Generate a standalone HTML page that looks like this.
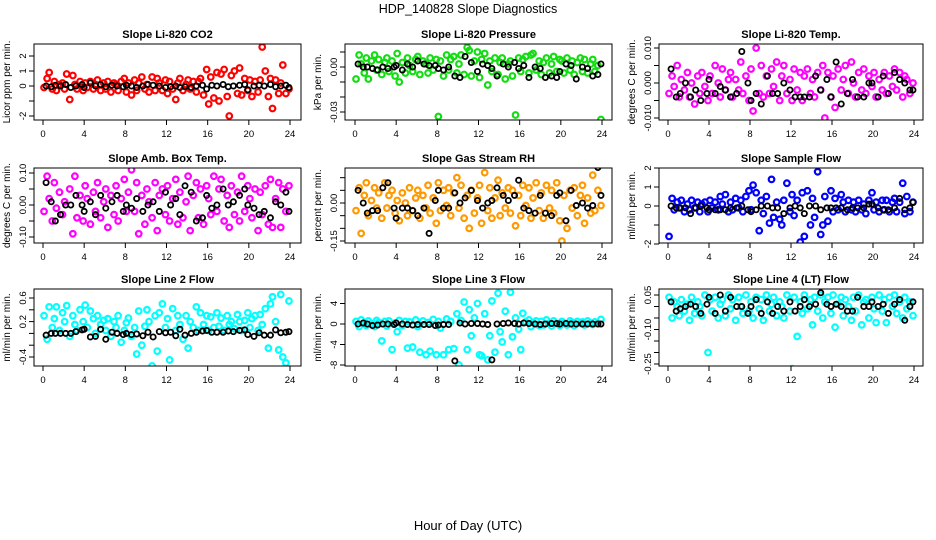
<!DOCTYPE html>
<html><head><meta charset="utf-8"><style>
html,body{margin:0;padding:0;background:#fff;}
svg{display:block;font-family:"Liberation Sans",Arial,sans-serif;}
</style></head><body>
<svg id="chart" width="936" height="540" viewBox="0 0 936 540" xmlns="http://www.w3.org/2000/svg">
<rect x="0" y="0" width="936" height="540" fill="#fff"/>
<text x="468" y="13" text-anchor="middle" font-size="12.5">HDP_140828  Slope Diagnostics</text>
<text x="468" y="530" text-anchor="middle" font-size="13">Hour of Day (UTC)</text>
</svg>
<script>
const hours = [0.1,0.4,0.6,0.9,1.1,1.3,1.6,1.9,2.1,2.3,2.6,2.9,3.1,3.3,3.6,3.9,4.1,4.3,4.6,4.9,5.1,5.3,5.6,5.9,6.1,6.3,6.6,6.9,7.1,7.3,7.6,7.9,8.1,8.3,8.6,8.9,9.1,9.3,9.6,9.9,10.1,10.3,10.6,10.9,11.1,11.3,11.6,11.9,12.1,12.3,12.6,12.9,13.1,13.3,13.6,13.9,14.1,14.3,14.6,14.9,15.1,15.3,15.6,15.9,16.1,16.3,16.6,16.9,17.1,17.3,17.6,17.9,18.1,18.3,18.6,18.9,19.1,19.3,19.6,19.9,20.1,20.3,20.6,20.9,21.1,21.3,21.6,21.9,22.1,22.3,22.6,22.9,23.1,23.3,23.6,23.9];
const blackHours = [0.3,0.8,1.2,1.7,2.2,2.7,3.2,3.8,4.0,4.6,5.1,5.6,6.1,6.7,7.2,7.8,8.1,8.6,9.1,9.7,10.2,10.7,11.3,11.9,12.4,12.9,13.3,13.8,14.4,14.9,15.5,15.9,16.4,16.9,17.5,18.0,18.5,19.1,19.6,19.9,20.5,21.0,21.5,22.1,22.6,23.1,23.6,23.9];
const xTicks = [0,4,8,12,16,20,24];

const co2Slope = [-0.1,0.5,0.9,-0.2,0.3,-0.3,0.1,0.2,-0.2,0.8,-0.9,0.7, 0.1,-0.2,0.3,-0.3,0.2,-0.1,0.3,-0.2,0.1,0.4,-0.3,0.2, -0.2,0.3,-0.4,0.2,0.1,-0.3,0.3,0.5,-0.4,0.2,-0.6,0.4, -0.3,0.2,0.6,-0.2,0.1,-0.4,0.6,-0.3,0.5,0.2,-0.3,0.4, -0.5,0.3,-0.2,-0.9,0.2,0.5,-0.3,0.1,0.4,-0.2,0.3,-0.4, 0.3,0.5,-0.6,1.1,-1.2,0.6,-0.8,0.9,-1.0,0.8,1.1,-0.7, -2.0,0.7,1.0,-0.5,1.2,-0.6,0.5,-0.3,0.4,-0.7,0.3,-0.4, 0.4,2.6,1.0,-0.7,0.5,-1.5,0.4,-0.5,0.2,1.4,-0.5,-0.2];
const co2Mean = [0,-0.05,0.05,0,0.1,-0.1,0,0.1,-0.1,0.2,0,0.1, -0.05,0.05,0,-0.05,0.05,0,-0.1,0,0.1,0.05,0,-0.1, -0.05,0,-0.1,-0.05,-0.1,0,0.05,-0.2,0.05,0,0.1,-0.05, 0,0.05,0.1,-0.25,0,0.05,0,0.1,-0.05,0,0.05,-0.1];

const pressSlope = [-0.008,0.008,0.002,-0.004,0.006,-0.008,0.004,0.008,-0.002,0.005,-0.005,0.003, 0.006,-0.003,0.004,-0.006,0.009,-0.010,0.003,-0.004,0.006,0.001,-0.003,0.005, 0.007,-0.005,0.004,0.002,-0.004,0.006,-0.002,0.005,-0.033,0.004,-0.006,0.008, -0.002,0.005,0.007,-0.004,0.002,0.008,-0.005,0.013,0.011,-0.006,0.004,0.010, -0.007,0.005,0.009,-0.012,0.004,-0.003,0.006,-0.005,0.003,0.006,-0.008,0.002, 0.004,-0.006,-0.032,0.006,-0.003,0.005,0.007,-0.004,0.008,0.009,-0.002,0.004, -0.005,0.003,0.006,-0.004,0.002,0.007,-0.003,0.005,0.004,-0.004,0.006,-0.002, 0.004,-0.005,0.003,0.006,-0.003,0.005,-0.004,0.002,0.005,-0.003,0.001,-0.035];
const pressMean = [0.002,0.000,0.000,-0.001,-0.002,0.000,-0.001,0.000,0.001,-0.002,0.002,0.000, 0.004,0.002,0.001,0.001,-0.001,-0.002,0.000,-0.006,-0.007,0.007,0.003,-0.003, 0.002,0.001,-0.001,-0.006,0.002,0.000,0.003,-0.001,0.001,-0.007,0.000,-0.001, -0.007,-0.006,-0.007,-0.003,0.002,0.001,-0.008,0.000,-0.001,-0.006,-0.005,0.002];

const licorTempSlope = [-0.003,0.002,-0.001,0.005,-0.004,0.001,-0.002,0.003,-0.004,0.000,-0.006,0.002, -0.003,0.003,-0.001,-0.005,0.002,-0.003,0.005,0.000,-0.004,0.004,-0.002,0.001, 0.003,-0.004,0.001,-0.002,0.006,-0.003,0.002,-0.005,0.004,-0.008,0.010,-0.003, 0.005,-0.004,0.002,-0.003,0.004,-0.001,0.006,-0.005,0.002,0.005,-0.003,0.001, -0.005,0.004,-0.002,0.003,-0.005,0.002,0.004,-0.003,0.001,-0.004,0.003,-0.002, 0.005,-0.010,0.003,-0.004,0.002,-0.007,0.004,-0.002,0.001,0.005,-0.003,0.006, 0.000,-0.004,0.003,-0.002,0.004,-0.003,0.002,-0.001,0.003,-0.004,0.001,-0.002, 0.003,-0.003,0.002,-0.001,0.004,-0.002,0.003,-0.004,0.002,0.001,-0.003,0.000];
const licorTempMean = [0.004,-0.004,-0.003,0.000,-0.004,-0.002,-0.005,-0.003,0.001,-0.003,-0.001,-0.002, -0.004,-0.003,0.009,0.000,-0.005,-0.003,-0.006,0.002,-0.003,-0.003,0.000,-0.002, -0.004,-0.004,-0.004,-0.004,0.002,-0.002,0.001,-0.004,0.006,-0.006,-0.003,0.001, -0.004,-0.004,0.000,0.000,-0.004,0.002,-0.003,0.003,0.001,0.000,-0.002,-0.002];

const boxTempSlope = [-0.02,0.09,0.02,-0.05,0.07,-0.01,0.04,-0.03,0.01,-0.13,0.05,-0.09, 0.09,-0.04,0.03,-0.05,0.06,0.02,-0.06,0.04,-0.02,0.07,-0.04,0.01, 0.05,-0.07,0.03,-0.03,0.06,-0.05,0.02,0.08,-0.02,0.04,0.11,-0.02, 0.07,-0.09,0.03,-0.06,0.05,0.01,-0.04,0.07,-0.08,0.03,0.05,-0.03, 0.06,-0.05,0.02,0.08,-0.06,0.04,-0.04,0.01,0.09,-0.08,0.03,0.07, -0.04,0.05,-0.06,0.06,0.02,-0.03,0.09,-0.02,0.05,0.08,-0.05,0.03, -0.07,0.06,-0.03,0.04,-0.05,0.09,-0.02,0.06,0.02,-0.04,0.05,-0.08, 0.04,-0.03,0.06,-0.06,0.08,-0.07,0.02,0.07,-0.07,0.05,-0.02,0.06];
const boxTempMean = [0.07,0.01,-0.05,-0.03,0.00,0.00,0.03,0.00,-0.02,0.01,-0.03,0.03, -0.01,0.01,0.03,-0.02,0.00,-0.01,0.02,-0.02,0.00,0.01,-0.02,0.04, 0.00,0.02,-0.03,0.06,0.04,-0.05,-0.04,0.03,-0.01,0.00,0.05,0.00, 0.01,0.03,0.05,0.00,-0.01,-0.03,-0.02,-0.04,0.01,0.00,0.04,-0.02];

const rhSlope = [-0.03,0.06,-0.12,0.03,0.08,-0.05,0.01,0.06,-0.02,0.04,-0.06,0.08, -0.02,0.03,0.05,-0.04,0.01,-0.07,0.04,0.00,-0.05,0.06,-0.03,0.02, 0.05,-0.06,0.03,-0.02,0.07,-0.04,0.02,-0.08,0.08,-0.03,0.05,-0.01, 0.06,-0.05,0.04,0.10,-0.02,0.07,-0.06,0.03,-0.10,0.05,-0.04,0.02, 0.07,-0.08,0.12,-0.03,0.06,-0.06,0.02,0.09,-0.05,0.04,-0.02,0.06, -0.04,0.05,-0.09,0.03,-0.05,0.07,-0.01,0.06,-0.06,0.02,0.08,-0.03, 0.04,-0.06,0.07,-0.02,0.05,-0.04,0.08,-0.07,-0.15,0.03,-0.10,0.05, -0.02,0.06,-0.05,0.03,0.07,-0.08,0.02,-0.04,0.11,-0.03,0.05,-0.01];
const rhMean = [0.05,0.00,-0.04,-0.03,-0.03,0.06,0.08,-0.02,-0.06,-0.02,-0.02,-0.03, -0.05,-0.02,-0.12,0.01,0.05,-0.02,-0.02,0.04,0.00,0.02,0.05,0.01, -0.02,0.00,0.01,0.06,0.03,0.01,0.03,0.09,-0.02,-0.03,-0.04,0.03, -0.04,-0.05,0.03,0.04,-0.07,0.05,-0.01,0.00,-0.02,-0.01,0.14,0.03];

const sampleSlope = [-1.6,0.4,-0.2,0.2,-0.1,0.3,-0.3,0.1,-0.2,0.3,-0.1,0.2, -0.3,0.1,0.2,-0.3,0.3,-0.1,0.2,-0.2,0.5,0.1,0.6,-0.3, 0.2,-0.2,0.4,-0.1,0.3,-0.3,0.5,0.8,-0.2,1.1,0.7,-1.3, 0.3,-0.4,0.5,-0.9,1.4,-0.6,0.2,-0.7,-1.0,0.3,1.2,-0.3, 0.6,-0.5,0.3,-1.9,0.7,-1.6,0.8,-1.0,0.4,-0.6,1.8,-1.5, -1.0,0.5,-0.8,0.8,-0.3,0.4,-0.2,0.6,0.2,-0.3,0.3,-0.2, 0.2,-0.3,0.3,-0.2,0.1,-0.4,0.3,0.7,-0.2,0.2,-0.3,0.3, -0.2,0.3,-0.3,0.2,0.4,-0.3,0.2,1.2,-0.4,0.5,-0.3,0.2];
const sampleMean = [0.0,-0.1,-0.1,-0.1,-0.4,-0.1,0.0,-0.1,-0.2,-0.2,-0.2,-0.2, -0.1,-0.1,0.0,-0.2,-0.3,-0.2,0.0,0.0,-0.1,-0.1,-0.4,-0.1, 0.0,-0.1,-0.4,0.0,0.0,-0.2,-0.1,-0.1,-0.1,-0.1,-0.2,-0.1, -0.1,-0.1,0.1,0.1,-0.1,-0.2,-0.2,-0.1,0.4,-0.2,-0.1,0.2];

const line2Slope = [0.30,-0.10,0.45,0.10,0.25,0.45,0.05,0.35,0.20,0.47,-0.05,0.30, 0.15,0.05,0.40,0.20,0.48,0.10,0.38,0.25,0.00,0.30,0.15,0.22, 0.05,0.25,-0.05,0.20,0.10,0.30,-0.15,0.05,0.18,0.26,-0.05,0.10, -0.35,0.38,-0.20,0.12,0.40,0.20,-0.55,0.30,-0.30,0.35,0.50,0.10, 0.25,-0.45,0.42,0.05,0.30,0.15,-0.10,0.30,-0.25,0.20,0.10,0.45, 0.05,0.35,0.15,0.30,0.05,0.28,0.10,0.35,0.12,0.26,0.05,0.30, 0.15,0.20,0.08,0.32,0.20,0.05,0.22,0.35,0.10,0.25,0.30,0.05, 0.32,0.15,0.42,-0.25,0.50,0.62,0.20,-0.28,0.66,-0.40,-0.50,0.55];
const line2Mean = [-0.03,0.00,0.00,0.00,0.00,0.00,0.03,0.06,0.07,-0.06,-0.05,0.07, -0.10,0.02,0.00,-0.02,0.00,-0.02,-0.01,-0.04,0.02,-0.06,0.03,0.01, 0.02,-0.04,0.07,-0.03,0.00,0.02,0.04,0.05,0.02,0.02,0.02,0.04, 0.03,0.05,0.06,-0.02,-0.05,0.01,-0.03,-0.03,0.06,0.01,0.02,0.03];

const line3Slope = [0.5,-0.5,0.8,0.2,-0.3,0.6,0.1,-0.5,0.7,0.3,-3.3,0.5, -0.4,0.6,-5.0,0.2,-1.5,0.7,-0.3,0.5,-4.7,0.4,-4.5,0.8, -0.5,-5.5,0.6,-6.0,0.3,-5.3,0.9,-6.0,0.5,-0.8,-6.0,1.0, -5.0,0.5,-4.8,2.0,-8.0,0.7,4.3,-5.0,2.8,-2.3,1.2,4.0, -6.0,-6.2,2.0,-7.0,-2.3,4.5,-5.5,6.0,-1.5,-3.5,2.5,-6.0, 6.2,-2.5,1.2,-1.0,-5.0,2.1,0.4,0.8,-0.5,0.3,0.6,-0.3, 0.5,-0.2,0.8,0.2,-0.4,0.6,0.1,-0.3,0.5,0.2,-0.2,0.6, 0.3,-0.3,0.5,0.1,0.4,-0.2,0.6,0.2,-0.1,0.4,0.1,0.9];
const line3Mean = [0.0,0.2,0.0,-0.3,-0.2,0.0,0.0,-0.1,0.2,0.0,-0.1,-0.2, -0.1,-0.1,-0.1,-0.3,-0.2,-0.1,-0.1,-7.2,0.2,0.0,0.1,0.1, 0.0,-0.1,-7.0,0.0,0.1,0.2,0.1,0.0,0.2,0.1,0.0,-0.1, 0.0,0.1,0.1,0.0,0.1,0.0,0.0,0.0,0.0,0.0,0.0,0.0];

const line4Slope = [0.04,-0.05,0.02,0.00,-0.04,0.03,-0.02,0.01,-0.06,0.04,-0.03,0.02, 0.00,-0.04,0.05,-0.20,0.03,-0.02,0.04,-0.05,0.01,0.03,-0.04,0.05, -0.01,0.03,-0.06,0.04,0.00,-0.03,0.05,-0.02,0.02,-0.05,0.04,-0.01, 0.03,-0.06,0.05,-0.02,0.01,0.04,-0.04,0.02,0.00,-0.05,0.05,-0.02, -0.27,0.04,-0.13,0.02,-0.03,0.05,-0.01,0.03,-0.08,0.04,-0.02,0.05, -0.05,0.02,0.04,-0.03,0.05,-0.09,0.01,0.04,-0.04,0.03,0.00,-0.06, 0.04,-0.02,0.05,-0.08,0.02,0.03,-0.05,0.04,-0.01,-0.07,0.05,-0.02, 0.03,-0.07,0.04,0.00,0.05,-0.03,0.02,-0.05,0.04,-0.01,0.02,-0.04];
const line4Mean = [0.02,-0.02,-0.01,0.00,0.01,0.00,-0.03,0.01,0.04,-0.03,0.05,-0.02, 0.04,0.00,0.00,-0.03,0.00,0.03,-0.03,0.02,-0.03,0.00,-0.02,0.02, -0.02,0.00,0.03,0.00,0.01,0.06,0.01,0.00,0.01,0.00,-0.02,-0.02, 0.04,0.00,0.00,0.02,0.00,0.01,-0.03,0.01,0.03,-0.06,0.00,0.02];

const yTicks1 = [-2,-1,0,1,2];
const yLabels1 = ["-2","","0","1","2"];
const yTicks2 = [-0.03,-0.02,-0.01,0,0.01];
const yLabels2 = ["-0.03","","","0.00",""];
const yTicks3 = [-0.01,-0.005,0,0.005,0.01];
const yLabels3 = ["-0.010","","0.000","","0.010"];
const yTicks4 = [-0.1,-0.05,0,0.05,0.1];
const yLabels4 = ["-0.10","","0.00","","0.10"];
const yTicks5 = [-0.15,-0.1,-0.05,0,0.05,0.1];
const yLabels5 = ["-0.15","","","0.00","",""];
const yTicks6 = [-2,-1,0,1,2];
const yLabels6 = ["-2","","0","1","2"];
const yTicks7 = [-0.4,-0.2,0,0.2,0.4,0.6];
const yLabels7 = ["-0.4","","","0.2","","0.6"];
const yTicks8 = [-8,-4,0,4];
const yLabels8 = ["-8","-4","0","4"];
const yTicks9 = [-0.25,-0.2,-0.15,-0.1,-0.05,0,0.05];
const yLabels9 = ["-0.25","","","-0.10","","","0.05"];

const svg = document.getElementById('chart');
const NS = 'http://www.w3.org/2000/svg';
function mk(tag, attrs, parent){
  const e = document.createElementNS(NS, tag);
  for (const k in attrs) e.setAttribute(k, attrs[k]);
  (parent||svg).appendChild(e);
  return e;
}
const cols = [{x1:34,x2:301,x0:43,x24:290},{x1:345,x2:612,x0:355,x24:602},{x1:659,x2:923,x0:668,x24:914}];
const rows = [{y1:44,y2:120},{y1:168,y2:243},{y1:289,y2:366}];
const panels = [
 {key:'co2',title:'Slope Li-820 CO2',ylab:'Licor ppm per min.',col:'#ff0000',ys:co2Slope,ms:co2Mean,ticks:yTicks1,labs:yLabels1,va:0,pa:86,vb:2,pb:56},
 {key:'pressure',title:'Slope Li-820 Pressure',ylab:'kPa per min.',col:'#11dd11',ys:pressSlope,ms:pressMean,ticks:yTicks2,labs:yLabels2,va:0,pa:67,vb:-0.03,pb:112},
 {key:'licor-temp',title:'Slope Li-820 Temp.',ylab:'degrees C per min.',col:'#ff00ff',ys:licorTempSlope,ms:licorTempMean,ticks:yTicks3,labs:yLabels3,va:0,pa:83,vb:0.01,pb:48},
 {key:'box-temp',title:'Slope Amb. Box Temp.',ylab:'degrees C per min.',col:'#ff00ff',ys:boxTempSlope,ms:boxTempMean,ticks:yTicks4,labs:yLabels4,va:0,pa:205,vb:0.1,pb:173},
 {key:'gas-rh',title:'Slope Gas Stream RH',ylab:'percent per min.',col:'#ff9900',ys:rhSlope,ms:rhMean,ticks:yTicks5,labs:yLabels5,va:0,pa:203,vb:-0.15,pb:241},
 {key:'sample-flow',title:'Slope Sample Flow',ylab:'ml/min per min.',col:'#0000ff',ys:sampleSlope,ms:sampleMean,ticks:yTicks6,labs:yLabels6,va:0,pa:206,vb:2,pb:168},
 {key:'line2-flow',title:'Slope Line 2 Flow',ylab:'ml/min per min.',col:'#00ffff',ys:line2Slope,ms:line2Mean,ticks:yTicks7,labs:yLabels7,va:0.6,pa:298,vb:-0.4,pb:357},
 {key:'line3-flow',title:'Slope Line 3 Flow',ylab:'ml/min per min.',col:'#00ffff',ys:line3Slope,ms:line3Mean,ticks:yTicks8,labs:yLabels8,va:0,pa:324,vb:-8,pb:365},
 {key:'line4-flow',title:'Slope Line 4 (LT) Flow',ylab:'ml/min per min.',col:'#00ffff',ys:line4Slope,ms:line4Mean,ticks:yTicks9,labs:yLabels9,va:0.05,pa:295,vb:-0.25,pb:364}
];
panels.forEach((p,i)=>{
  const c = cols[i%3], r = rows[Math.floor(i/3)];
  const g = mk('g',{});
  
  
  const xs = h => c.x0 + (c.x24-c.x0)*h/24;
  const ysc = v => p.pa + (p.pb-p.pa)*(v-p.va)/(p.vb-p.va);
  const clip = mk('clipPath',{id:'clip'+i},g);
  mk('rect',{x:c.x1,y:r.y1,width:c.x2-c.x1,height:r.y2-r.y1},clip);
  const t = mk('text',{x:(c.x1+c.x2)/2,y:r.y1-6,'text-anchor':'middle','font-size':'11','font-weight':'bold'},g);
  t.textContent = p.title;
  
  
  const yc = (r.y1+r.y2)/2;
  const yl = mk('text',{x:0,y:0,transform:`translate(${c.x1-24},${yc}) rotate(-90)`,'text-anchor':'middle','font-size':'10'},g);
  yl.textContent = p.ylab;
  
  
  const pts = mk('g',{'clip-path':`url(#clip${i})`,fill:'none'},g);
  
  
  p.ys.forEach((v,k)=>{
    const ci = mk('circle',{cx:xs(hours[k]),cy:ysc(v),r:2.8,stroke:p.col,'stroke-width':2.2},pts);
    
    
  });
  p.ms.forEach((v,k)=>{
    const ci = mk('circle',{cx:xs(blackHours[k]),cy:ysc(v),r:2.6,stroke:'#000','stroke-width':1.8},pts);
    
    
  });
  const box = mk('rect',{x:c.x1,y:r.y1,width:c.x2-c.x1,height:r.y2-r.y1,fill:'none',stroke:'#000','stroke-width':1},g);
  
  
  const xa = mk('g',{},g);
  
  
  mk('line',{x1:xs(0),x2:xs(24),y1:r.y2,y2:r.y2,stroke:'#000'},xa);
  xTicks.forEach(h=>{
    mk('line',{x1:xs(h),x2:xs(h),y1:r.y2,y2:r.y2+5,stroke:'#000'},xa);
    const tl = mk('text',{x:xs(h),y:r.y2+17,'text-anchor':'middle','font-size':'9.5'},xa);
    tl.textContent = h;
    
    
  });
  const ya = mk('g',{},g);
  
  
  const tp = p.ticks.map(ysc);
  mk('line',{x1:c.x1,x2:c.x1,y1:Math.min(...tp),y2:Math.max(...tp),stroke:'#000'},ya);
  p.ticks.forEach((v,k)=>{
    const y = ysc(v);
    mk('line',{x1:c.x1-5,x2:c.x1,y1:y,y2:y,stroke:'#000'},ya);
    if (p.labs[k]) {
      const tl = mk('text',{x:0,y:0,transform:`translate(${c.x1-8},${y}) rotate(-90)`,'text-anchor':'middle','font-size':'9.5'},ya);
      tl.textContent = p.labs[k];
      
      
    }
  });
});
</script>
</body></html>
